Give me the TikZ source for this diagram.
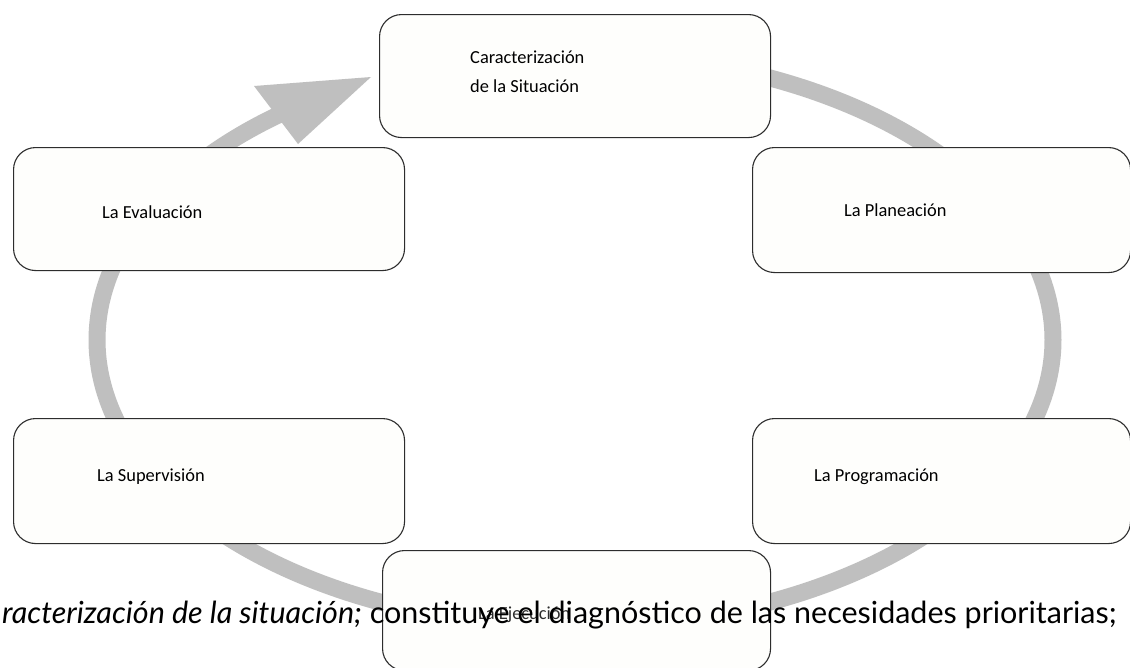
\documentclass[tikz,border=0pt]{standalone}
\usepackage{fontspec}
\setmainfont{Carlito}
\newfontfamily\bodyfont{Lato}
\definecolor{arcgray}{RGB}{191,191,191}
\definecolor{boxline}{RGB}{45,45,45}
\definecolor{boxfill}{RGB}{254,254,252}
\begin{document}
\begin{tikzpicture}[x=1pt,y=-1pt,
  stagebox/.style={draw=boxline, line width=1.1pt, fill=boxfill, rounded corners=22pt, anchor=north west, inner sep=0pt},
  lbl/.style={anchor=west, inner sep=0pt, font=\fontsize{18.4}{29}\selectfont},
  ring/.style={draw=arcgray, line width=17pt}]
\useasboundingbox (0,0) rectangle (1130,667);
\fill[white] (0,0) rectangle (1130,667);
% ring arrow
\draw[ring] plot[domain=-81:233, samples=160, variable=\t, smooth] ({575+478*cos(\t)},{340+287*sin(\t)});
\coordinate (barbA) at (254,86);
\coordinate (tip) at (371,77);
\coordinate (barbB) at (298,144);
\fill[arcgray] (barbA) -- (tip) -- (barbB) -- cycle;
% boxes
\node[stagebox, minimum width=391pt, minimum height=123pt] (s1) at (379,14) {};
\node[stagebox, minimum width=378pt, minimum height=125pt] (s2) at (752,147) {};
\node[stagebox, minimum width=378pt, minimum height=125pt] (s3) at (752,418) {};
\node[stagebox, minimum width=388pt, minimum height=120pt] (s4) at (382,550) {};
\node[stagebox, minimum width=391pt, minimum height=125pt] (s5) at (13,418) {};
\node[stagebox, minimum width=391pt, minimum height=123pt] (s6) at (13,147) {};
% labels
\node[lbl, align=left] (t1) at (470,72) {Caracterización\\de la Situación};
\node[lbl] (t2) at (844,210) {La Planeación};
\node[lbl] (t3) at (814,477) {La Programación};
\node[lbl, text=boxline] (t4) at (478,615) {La Ejecución};
\node[lbl] (t5) at (97,477) {La Supervisión};
\node[lbl] (t6) at (102,212) {La Evaluación};
% overlapping paragraph text
\node[anchor=base west, inner sep=0pt, font=\bodyfont\fontsize{30.5}{34}\selectfont] (para) at (2,623)
  {\textit{racterización de la situación;} constituye el diagnóstico de las necesidades prioritarias;};
\end{tikzpicture}
\end{document}
